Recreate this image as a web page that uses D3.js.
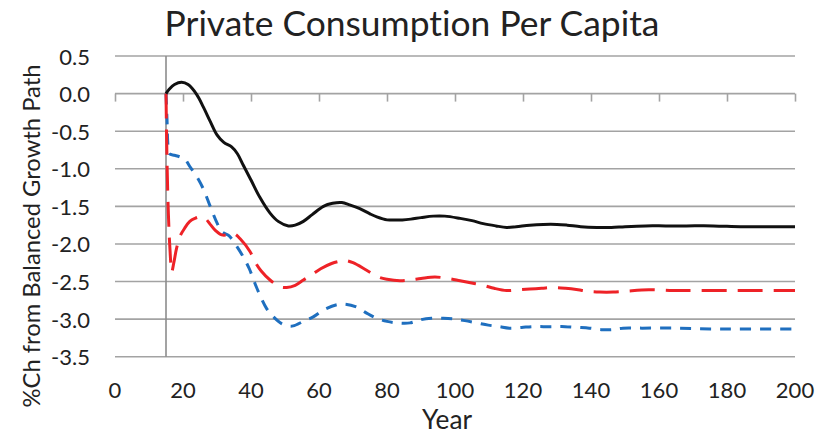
<!DOCTYPE html>
<html><head><meta charset="utf-8">
<script src="https://cdn.jsdelivr.net/npm/d3@7"></script>
<style>body{margin:0;background:#fff}svg{display:block}text{font-family:Lato,"Open Sans",sans-serif;fill:#222;font-variant-ligatures:none;font-feature-settings:"liga" 0,"clig" 0}</style>
</head><body><svg id="c" width="825" height="435"></svg>
<script>
const title = "Private Consumption Per Capita";
const xTitle = "Year";
const yTitle = "%Ch from Balanced Growth Path";
const xTicks = [0,20,40,60,80,100,120,140,160,180,200];
const yTicks = [0.5,0.0,-0.5,-1.0,-1.5,-2.0,-2.5,-3.0,-3.5];

const blackX = [15,16,17.5,19.6,21.5,24,26,28,30,32,34.3,36,37.7,40,42.6,45.6,48,51,53,55.4,58,61.3,64,66.7,69,72,75,77,80,82,84.5,87,90,93.6,97,101.5,105,108.3,112,115.2,118,122,126,130,133,137,141.7,146,150,156,162,168,176,184,192,200];
const blackY = [0,0.06,0.12,0.15,0.12,-0.01,-0.18,-0.37,-0.55,-0.65,-0.71,-0.8,-0.95,-1.15,-1.38,-1.59,-1.7,-1.76,-1.75,-1.7,-1.61,-1.5,-1.46,-1.45,-1.48,-1.53,-1.6,-1.64,-1.68,-1.68,-1.68,-1.67,-1.65,-1.63,-1.63,-1.66,-1.69,-1.73,-1.76,-1.78,-1.77,-1.75,-1.74,-1.74,-1.75,-1.77,-1.78,-1.78,-1.77,-1.76,-1.76,-1.76,-1.76,-1.77,-1.77,-1.77];

const redX = [15,15.3,15.7,16.2,16.7,17.3,18.1,19.1,20.5,22,23.5,25,26.5,28,29.5,31.4,33,34.8,37,39.7,41.2,43,45.6,48.5,50.5,53,55.4,57.9,60.5,63.7,66,67.6,70,74,77.5,80,83.8,86.8,90,94.1,98,101.5,104.9,108.3,111.5,115.2,118.6,122,125.5,128.9,132.5,136.2,139,142.6,146.5,150,157,164,170,180,190,200];
const redY = [0,-0.9,-1.6,-2.1,-2.37,-2.25,-2.06,-1.9,-1.79,-1.7,-1.66,-1.64,-1.66,-1.74,-1.82,-1.88,-1.88,-1.86,-1.94,-2.1,-2.24,-2.36,-2.48,-2.57,-2.58,-2.55,-2.48,-2.41,-2.33,-2.26,-2.23,-2.22,-2.25,-2.35,-2.44,-2.47,-2.49,-2.48,-2.46,-2.44,-2.46,-2.49,-2.52,-2.55,-2.59,-2.62,-2.61,-2.6,-2.59,-2.58,-2.59,-2.61,-2.63,-2.64,-2.64,-2.63,-2.61,-2.62,-2.62,-2.62,-2.62,-2.62];

const blueX = [15,15.3,15.6,16,17.5,19,20.5,22,24,26,28,30,31.5,33.5,35.8,37.7,39.5,41.2,42.6,44.6,46.6,49,51,52.4,55.4,58.3,61.3,65.2,67.6,71.1,74,77,80,83,86.8,89.7,93.1,96.6,100,102.9,106.4,109.8,113,116,119.6,123,126,129.4,132.4,135.8,139.5,143,146,149.4,155,165,175,185,200];
const blueY = [0,-0.35,-0.7,-0.8,-0.82,-0.84,-0.87,-0.97,-1.1,-1.27,-1.5,-1.72,-1.84,-1.89,-2.03,-2.17,-2.33,-2.53,-2.68,-2.86,-2.97,-3.06,-3.09,-3.09,-3.03,-2.97,-2.88,-2.81,-2.8,-2.84,-2.92,-2.99,-3.03,-3.05,-3.05,-3.01,-2.99,-2.99,-3.0,-3.02,-3.05,-3.08,-3.1,-3.12,-3.11,-3.1,-3.1,-3.1,-3.1,-3.11,-3.12,-3.14,-3.14,-3.12,-3.12,-3.12,-3.13,-3.13,-3.13];

const svg = d3.select("#c");
const x = d3.scaleLinear().domain([0,200]).range([115,795]);
const y = d3.scaleLinear().domain([-3.5,0.5]).range([356.7,56]);
const gridColor = "#a3a3a3";

function fit(sel, target){
  const w = sel.node().getComputedTextLength();
  const s = parseFloat(sel.style("font-size"));
  sel.style("font-size", (s*target/w) + "px");
}

// grid
svg.append("g").selectAll("line").data(yTicks).join("line")
  .attr("x1", x(0)).attr("x2", x(200))
  .attr("y1", d=>y(d)).attr("y2", d=>y(d))
  .attr("stroke", gridColor).attr("stroke-width", 1.6);

// x axis at y=0
const xAxis = svg.append("g").attr("transform", `translate(0,${y(0)})`)
  .call(d3.axisBottom(x).tickValues(xTicks).tickSize(8).tickFormat(""));
xAxis.select(".domain").remove();
xAxis.selectAll("line").attr("stroke", gridColor).attr("stroke-width", 1.6);

// vertical axis line at x=15
svg.append("line").attr("x1", x(15)).attr("x2", x(15))
  .attr("y1", y(0.5)).attr("y2", y(-3.5))
  .attr("stroke", "#8c8c8c").attr("stroke-width", 1.6);

// tick labels
svg.append("g").selectAll("text").data(xTicks).join("text")
  .attr("x", d=>x(d)).attr("y", 398).attr("text-anchor","middle")
  .style("font-size","22px").text(d=>d);
svg.append("g").selectAll("text").data(yTicks).join("text")
  .attr("x", 90).attr("y", d=>y(d)+8.5).attr("text-anchor","end")
  .style("font-size","22px").text(d=>d3.format(".1f")(d).replace("−","-"));

// series
const line = d3.line().x(d=>x(d[0])).y(d=>y(d[1])).curve(d3.curveCatmullRom.alpha(0.5));
const series = [
  {xs: blueX, ys: blueY, color:"#1f6fbf", dash:"11,9"},
  {xs: redX, ys: redY, color:"#ee2227", dash:"25,11"},
  {xs: blackX, ys: blackY, color:"#111", dash:null}
];
series.forEach(s=>{
  const p = svg.append("path").datum(s.xs.map((v,i)=>[v,s.ys[i]]))
    .attr("d", line).attr("fill","none").attr("stroke", s.color)
    .attr("stroke-width", 3).attr("stroke-linejoin","round");
  if (s.dash) p.attr("stroke-dasharray", s.dash);
});

// titles
const t = svg.append("text").attr("x", 412).attr("y", 36).attr("text-anchor","middle")
  .style("font-size","32px").text(title);
fit(t, 495);
const xt = svg.append("text").attr("x", 447).attr("y", 429).attr("text-anchor","middle")
  .style("font-size","24px").text(xTitle);
fit(xt, 50);
const yt = svg.append("text").attr("transform","translate(40,236) rotate(-90)")
  .attr("text-anchor","middle").style("font-size","24px").text(yTitle);
fit(yt, 343);
</script></body></html>
